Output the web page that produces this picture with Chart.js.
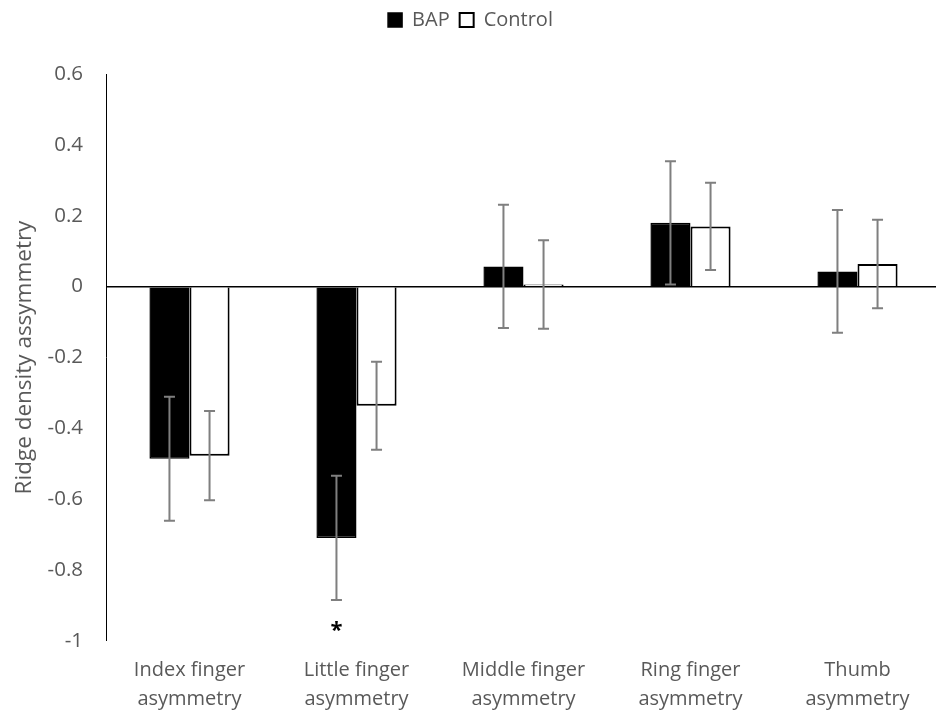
<!DOCTYPE html>
<html>
<head>
<meta charset="utf-8">
<script src="https://cdn.jsdelivr.net/npm/chart.js@4"></script>
<style>
  body { margin: 0; background: #fff; overflow: hidden; }
  #wrap { width: 941px; height: 719px; }
</style>
</head>
<body>
<div id="wrap"><canvas id="ridgeChart"></canvas></div>
<script>
// data
const categories = [
    ['Index finger', 'asymmetry'],
    ['Little finger', 'asymmetry'],
    ['Middle finger', 'asymmetry'],
    ['Ring finger', 'asymmetry'],
    ['Thumb', 'asymmetry']
];
const bapValues = [-0.486, -0.709, 0.057, 0.180, 0.043];
const bapErrors = [0.175, 0.175, 0.174, 0.174, 0.173];
const controlValues = [-0.477, -0.336, 0.006, 0.170, 0.064];
const controlErrors = [0.126, 0.124, 0.125, 0.123, 0.125];
const significance = ['', '*', '', '', ''];
const yMin = -1, yMax = 0.6, yStep = 0.2;

const textGrey = '#595959';
const fontFamily = "'Open Sans', sans-serif";

// grey whiskers + significance stars
const errorBarPlugin = {
    id: 'errorBars',
    afterDatasetsDraw(chart) {
        const ctx = chart.ctx;
        const yScale = chart.scales.y;
        const errors = [bapErrors, controlErrors];
        ctx.save();
        ctx.strokeStyle = '#7f7f7f';
        ctx.lineWidth = 2;
        chart.data.datasets.forEach((ds, i) => {
            const meta = chart.getDatasetMeta(i);
            meta.data.forEach((bar, j) => {
                const v = ds.data[j], e = errors[i][j];
                const top = yScale.getPixelForValue(v + e);
                const bottom = yScale.getPixelForValue(v - e);
                ctx.beginPath();
                ctx.moveTo(bar.x, top); ctx.lineTo(bar.x, bottom);
                ctx.moveTo(bar.x - 5.5, top); ctx.lineTo(bar.x + 5.5, top);
                ctx.moveTo(bar.x - 5.5, bottom); ctx.lineTo(bar.x + 5.5, bottom);
                ctx.stroke();
            });
        });
        // star under the BAP whisker
        const bapMeta = chart.getDatasetMeta(0);
        ctx.fillStyle = '#000';
        ctx.font = 'bold 22px ' + fontFamily;
        ctx.textAlign = 'center';
        ctx.textBaseline = 'middle';
        significance.forEach((s, j) => {
            if (!s) return;
            const y = yScale.getPixelForValue(bapValues[j] - bapErrors[j]) + 31;
            ctx.fillText(s, bapMeta.data[j].x, y);
        });
        ctx.restore();
    }
};

// fixed legend band height
const legendHeightPlugin = {
    id: 'legendHeight',
    beforeInit(chart) {
        const origFit = chart.legend.fit;
        chart.legend.fit = function () {
            origFit.bind(chart.legend)();
            this.height = 74;
        };
    }
};

new Chart(document.getElementById('ridgeChart'), {
    type: 'bar',
    data: {
        labels: categories,
        datasets: [{
            label: 'BAP',
            data: bapValues,
            backgroundColor: '#000',
            borderColor: '#000',
            borderWidth: 1.5
        }, {
            label: 'Control',
            data: controlValues,
            backgroundColor: '#fff',
            borderColor: '#000',
            borderWidth: 2
        }]
    },
    options: {
        responsive: true,
        maintainAspectRatio: false,
        animation: false,
        layout: { padding: { left: 0, right: 0, top: 0, bottom: 0 } },
        datasets: {
            bar: { categoryPercentage: 0.48, barPercentage: 1 }
        },
        plugins: {
            tooltip: { enabled: false },
            legend: {
                position: 'top',
                labels: {
                    boxWidth: 14,
                    boxHeight: 14,
                    padding: 10,
                    color: textGrey,
                    font: { family: fontFamily, size: 20 }
                }
            }
        },
        scales: {
            x: {
                grid: { display: false, drawTicks: false },
                border: { display: false },
                ticks: {
                    color: textGrey,
                    padding: 15,
                    maxRotation: 0,
                    autoSkip: false,
                    font: { family: fontFamily, size: 20, lineHeight: 1.45 }
                },
                afterFit(scale) { scale.height = 78; }
            },
            y: {
                min: yMin,
                max: yMax,
                grid: {
                    drawTicks: false,
                    color: c => (c.tick && c.tick.value === 0) ? '#000' : 'rgba(0,0,0,0)',
                    lineWidth: c => (c.tick && c.tick.value === 0) ? 1.5 : 0
                },
                border: { display: true, color: '#000', width: 1 },
                ticks: {
                    stepSize: yStep,
                    color: textGrey,
                    padding: 23,
                    font: { family: fontFamily, size: 20.5 },
                    callback: v => String(Number(v.toFixed(1)))
                },
                title: {
                    display: true,
                    text: 'Ridge density assymmetry',
                    color: textGrey,
                    padding: { top: 11, bottom: 0 },
                    font: { family: fontFamily, size: 22.5 }
                },
                afterFit(scale) { scale.width = 106; }
            }
        }
    },
    plugins: [errorBarPlugin, legendHeightPlugin]
});
</script>
</body>
</html>
